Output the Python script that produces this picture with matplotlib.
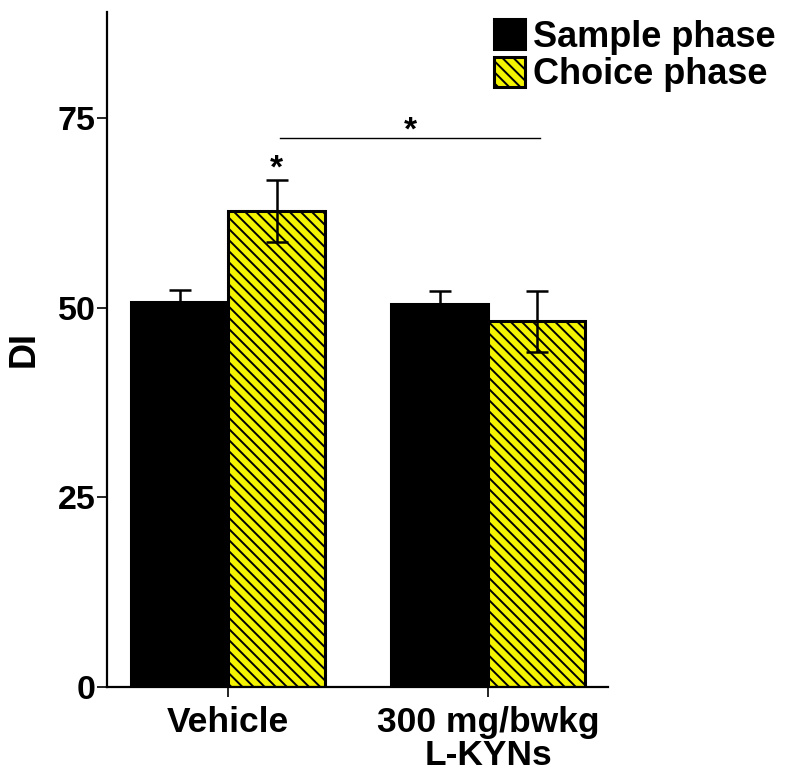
import matplotlib
matplotlib.use("Agg")
import matplotlib.pyplot as plt
import numpy as np

plt.rcParams['font.family'] = ['Liberation Sans', 'DejaVu Sans']
plt.rcParams['font.weight'] = 'bold'
plt.rcParams['hatch.linewidth'] = 1.4

groups = ["Vehicle", "300 mg/bwkg\nL-KYNs"]
series = ["Sample phase", "Choice phase"]
sample_vals = [50.8, 50.5]
sample_err = [1.6, 1.7]
choice_vals = [62.8, 48.2]
choice_err = [4.1, 4.0]
yticks = [0, 25, 50, 75]

fig = plt.figure(figsize=(7.87, 7.77), dpi=100)
ax = fig.add_axes([0.136, 0.1158, 0.6366, 0.8688])

x = np.arange(len(groups))
w = 0.373
ax.bar(x - w/2, sample_vals, w, color='black', edgecolor='black', linewidth=2.2,
       label=series[0], zorder=2)
ax.bar(x + w/2, choice_vals, w, color='#f4f400', edgecolor='black', linewidth=2.2,
       hatch='\\\\\\', label=series[1], zorder=2)
ax.errorbar(x - w/2, sample_vals, yerr=sample_err, fmt='none', ecolor='black',
            elinewidth=1.8, capsize=8, capthick=1.8, zorder=3)
ax.errorbar(x + w/2, choice_vals, yerr=choice_err, fmt='none', ecolor='black',
            elinewidth=1.8, capsize=8, capthick=1.8, zorder=3)

# significance annotations
ax.plot([x[0] + 0.2, x[1] + 0.2], [72.4, 72.4], color='black', linewidth=1.0)
ax.text((x[0] + x[1]) / 2 + 0.2, 71.3, '*', ha='center', va='bottom', fontsize=24)
ax.text(x[0] + w/2, 66.3, '*', ha='center', va='bottom', fontsize=24)

ax.set_xlim(-0.465, 1.46)
ax.set_ylim(0, 89)
ax.set_xticks(x)
ax.set_xticklabels(groups, fontsize=25.5, fontweight='bold', linespacing=1.0)
ax.set_yticks(yticks)
ax.set_yticklabels([str(t) for t in yticks], fontsize=24.5, fontweight='bold')
ax.set_ylabel('DI', fontsize=26, fontweight='bold', labelpad=12)

for s in ['top', 'right']:
    ax.spines[s].set_visible(False)
for s in ['left', 'bottom']:
    ax.spines[s].set_linewidth(1.6)
ax.tick_params(axis='y', direction='out', length=7, width=1.2, pad=1)
ax.tick_params(axis='x', direction='out', length=7, width=1.2, pad=7)

leg = fig.legend(loc='upper right', bbox_to_anchor=(0.985, 0.975),
                 bbox_transform=fig.transFigure, fontsize=26, frameon=False,
                 handlelength=0.88, handleheight=0.88, handletextpad=0.2,
                 labelspacing=0.07, borderaxespad=0, borderpad=0)

fig.savefig('out.png', dpi=100)
